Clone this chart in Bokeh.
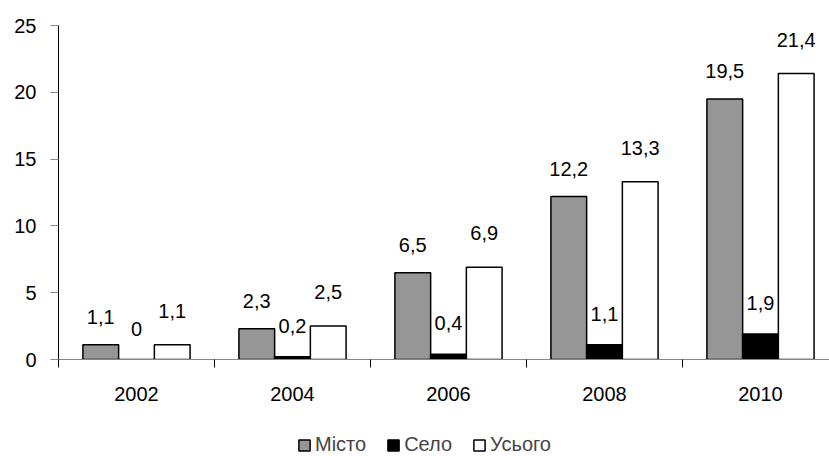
import numpy as np
from bokeh.plotting import figure
from bokeh.layouts import column
from bokeh.models import (ColumnDataSource, Range1d, FixedTicker, LabelSet,
                          Legend, LegendItem)
from bokeh.core.properties import value
from bokeh.transform import dodge
from bokeh.embed import file_html
from bokeh.resources import INLINE

# ---- data ----
years = ["2002", "2004", "2006", "2008", "2010"]
misto = [1.1, 2.3, 6.5, 12.2, 19.5]
selo = [0, 0.2, 0.4, 1.1, 1.9]
usogo = [1.1, 2.5, 6.9, 13.3, 21.4]
series_names = ["Місто", "Село", "Усього"]
y_ticks = [0, 5, 10, 15, 20, 25]


def fmt(v):
    return f"{v:g}".replace(".", ",")


centers = [i + 0.5 for i in range(len(years))]
source = ColumnDataSource(dict(
    x=centers,
    misto=misto, selo=selo, usogo=usogo,
    misto_lbl=[fmt(v) for v in misto],
    selo_lbl=[fmt(v) for v in selo],
    usogo_lbl=[fmt(v) for v in usogo],
))

FONT = "Liberation Sans"
FS = "20px"
BW = 0.229
W = 829

p = figure(width=W, height=420, output_backend="svg", toolbar_location=None,
           x_range=Range1d(0, 771 / 156), y_range=Range1d(0, 25),
           min_border_left=58, min_border_right=0, min_border_top=25,
           min_border_bottom=61)
p.outline_line_color = None
p.xgrid.visible = False
p.ygrid.visible = False
p.background_fill_color = "white"
p.border_fill_color = "white"

styles = [("misto", "#969696", -BW), ("selo", "black", 0.0), ("usogo", "white", BW)]
for col, color, off in styles:
    p.vbar(x=dodge("x", off, range=p.x_range), top=col, width=BW,
           source=source, fill_color=color, line_color="black", line_width=1.5)

offsets = {"misto": 28, "selo": 31, "usogo": 34}
for col, color, off in styles:
    lbl = LabelSet(x=dodge("x", off, range=p.x_range), y=col, text=col + "_lbl",
                   source=source, y_offset=offsets[col], text_align="center",
                   text_baseline="middle", text_font=value(FONT),
                   text_font_size=FS, text_color="black")
    p.add_layout(lbl)

# x axis
xa = p.xaxis[0]
xa.ticker = FixedTicker(ticks=centers, minor_ticks=[0, 1, 2, 3, 4])
xa.major_label_overrides = {c: y for c, y in zip(centers, years)}
xa.major_tick_line_color = None
xa.major_tick_out = 0
xa.major_tick_in = 0
xa.minor_tick_out = 8
xa.minor_tick_in = 0
xa.minor_tick_line_color = "black"
xa.axis_line_color = "#868686"
xa.major_label_standoff = 19
xa.major_label_text_font = FONT
xa.major_label_text_font_size = FS
xa.major_label_text_color = "black"

# y axis
ya = p.yaxis[0]
ya.ticker = FixedTicker(ticks=y_ticks, minor_ticks=[])
ya.major_tick_out = 8
ya.major_tick_in = 0
ya.major_tick_line_color = "#868686"
ya.minor_tick_line_color = None
ya.axis_line_color = "black"
ya.major_label_standoff = 14
ya.major_label_text_font = FONT
ya.major_label_text_font_size = FS
ya.major_label_text_color = "black"

# legend strip below the chart; swatch renderers carry no drawable (NaN) data
lf = figure(width=W, height=36, output_backend="svg", toolbar_location=None,
            x_range=Range1d(0, 1), y_range=Range1d(0, 1),
            min_border_left=0, min_border_right=0, min_border_top=0,
            min_border_bottom=0, x_axis_type=None, y_axis_type=None)
lf.outline_line_color = None
lf.xgrid.visible = False
lf.ygrid.visible = False
leg_renderers = []
nan = np.array([np.nan])
for col, color, off in styles:
    r = lf.vbar(x=nan, top=nan, bottom=nan, width=0.1, fill_color=color,
                line_color="black", line_width=1.5)
    leg_renderers.append(r)

legend = Legend(items=[LegendItem(label=n, renderers=[r])
                       for n, r in zip(series_names, leg_renderers)],
                orientation="horizontal", location=(239, 0),
                glyph_width=14, glyph_height=14, label_standoff=4, spacing=20,
                padding=0, margin=0, border_line_color=None,
                background_fill_alpha=0, label_text_font=FONT,
                label_text_font_size=FS, label_height=20)
lf.add_layout(legend, "center")

layout = column(p, lf, spacing=0)
open("out.html", "w").write(file_html(layout, INLINE))
